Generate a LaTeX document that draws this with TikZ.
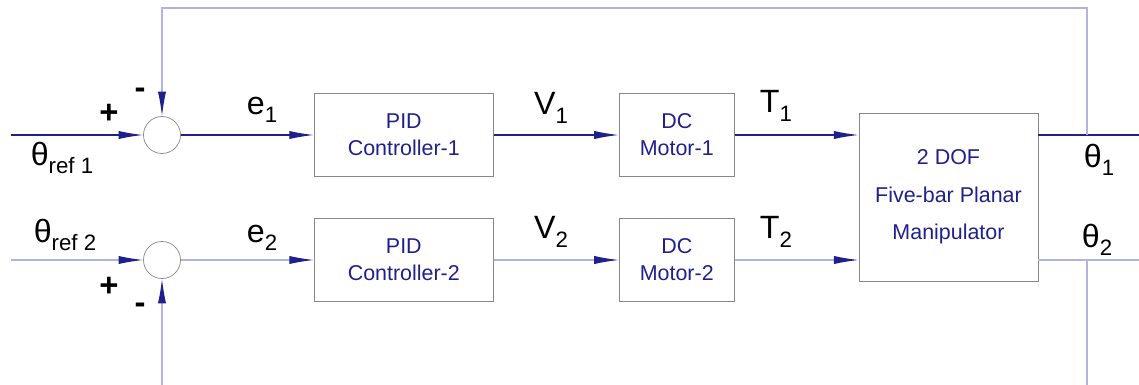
\documentclass[tikz,border=0pt]{standalone}
\usepackage{fontspec}
\setmainfont{Liberation Sans}
\usepackage{xcolor}
\usetikzlibrary{arrows.meta, positioning}
\definecolor{navy}{RGB}{32,32,140}
\definecolor{lav}{RGB}{178,178,228}
\definecolor{boxgray}{RGB}{135,135,135}
\tikzstyle{arrow} = [navy, line width=1pt, -{Latex[length=21pt,width=7pt]}]
\tikzstyle{larrow} = [lav, line width=0.9pt, -{Latex[length=21pt,width=7pt,color=navy]}]
\newcommand{\sig}[2]{#1\raisebox{-0.5ex}{\fontsize{19}{19}\selectfont #2}}

\begin{document}
\begin{tikzpicture}[node distance=3.9cm]
    \tikzstyle{block} = [rectangle, draw=boxgray, line width=0.8pt, minimum height=2.49cm, text=navy, align=center, font=\fontsize{18.3}{23}\selectfont]
    \tikzstyle{sum} = [circle, draw=boxgray, line width=0.6pt, minimum size=1.11cm, inner sep=0pt]
    \tikzstyle{lbl} = [font=\fontsize{27.5}{29}\selectfont, inner sep=0pt]
    \tikzstyle{sgn} = [font=\fontsize{28}{30}\selectfont\bfseries, inner sep=0pt]
    \useasboundingbox (0,0) rectangle (34.17,-11.55);

    % row 1
    \node[sum] (sum1) at (4.86,-4.05) {};
    \node[block, minimum width=5.37cm, right=3.99cm of sum1] (pid1) {PID\\Controller-1};
    \node[block, minimum width=3.45cm, right=3.75cm of pid1] (motor1) {DC\\Motor-1};
    % row 2
    \node[sum] (sum2) at (4.86,-7.8) {};
    \node[block, minimum width=5.37cm, right=3.99cm of sum2] (pid2) {PID\\Controller-2};
    \node[block, minimum width=3.45cm, right=3.75cm of pid2] (motor2) {DC\\Motor-2};
    % plant
    \node[block, minimum width=5.37cm, minimum height=5.04cm, font=\fontsize{18.3}{32}\selectfont] (robot) at (28.455,-5.91) {2 DOF\\Five-bar Planar\\Manipulator};

    \coordinate (in1) at (0.33,-4.05);
    \coordinate (in2) at (0.33,-7.8);
    \coordinate (out1) at (34.17,-4.05);
    \coordinate (out2) at (34.17,-7.8);
    \coordinate (tap1) at (32.61,-4.05);
    \coordinate (tap2) at (32.61,-7.8);
    \coordinate (top) at (32.61,-0.24);
    \coordinate (bot) at (32.61,-11.55);

    \draw[arrow] (in1) -- (sum1);
    \draw[arrow] (sum1) -- (pid1);
    \draw[arrow] (pid1) -- (motor1);
    \draw[arrow] (motor1.east) -- (motor1.east -| robot.west);
    \draw[navy, line width=1pt] (robot.east |- tap1) -- (out1);

    \draw[larrow] (in2) -- (sum2);
    \draw[larrow] (sum2) -- (pid2);
    \draw[larrow] (pid2) -- (motor2);
    \draw[larrow] (motor2.east) -- (motor2.east -| robot.west);
    \draw[lav, line width=0.9pt] (robot.east |- tap2) -- (out2);

    % feedback
    \draw[larrow] (tap1) -- (top) -- (top -| sum1) -- (sum1);
    \draw[lav, line width=0.9pt] (tap2) -- (bot);
    \draw[larrow] (bot -| sum2) -- (sum2);

    % labels
    \node[sgn] (p1) at (3.27,-3.42) {+};
    \node[sgn] (m1) at (4.2,-2.79) {-};
    \node[sgn] (p2) at (3.27,-8.61) {+};
    \node[sgn] (m2) at (4.2,-9.24) {-};
    \node[lbl] (r1) at (1.86,-4.74) {\sig{θ}{ref 1}};
    \node[lbl] (r2) at (1.95,-7.05) {\sig{θ}{ref 2}};
    \node[lbl] (e1) at (7.86,-3.3) {\sig{e}{1}};
    \node[lbl] (e2) at (7.86,-7.14) {\sig{e}{2}};
    \node[lbl] (v1) at (16.53,-3.24) {\sig{V}{1}};
    \node[lbl] (v2) at (16.53,-6.96) {\sig{V}{2}};
    \node[lbl] (t1) at (23.28,-3.18) {\sig{T}{1}};
    \node[lbl] (t2) at (23.28,-6.96) {\sig{T}{2}};
    \node[lbl] (th1) at (32.97,-4.8) {\sig{θ}{1}};
    \node[lbl] (th2) at (32.91,-7.2) {\sig{θ}{2}};
\end{tikzpicture}
\end{document}
